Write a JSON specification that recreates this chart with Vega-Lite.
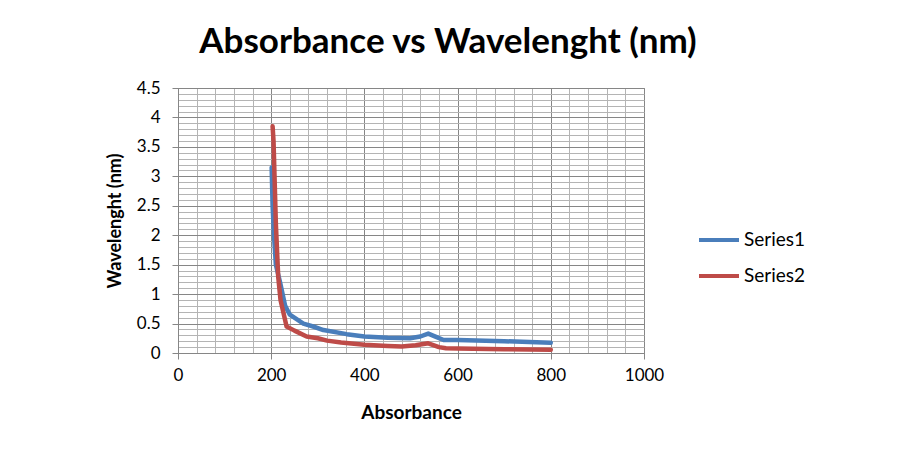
{
  "$schema": "https://vega.github.io/schema/vega-lite/v6.json",
  "autosize": {"type": "none"},
  "width": 466,
  "height": 265,
  "padding": {"left": 178, "top": 88, "right": 256, "bottom": 107},
  "background": "white",
  "config": {
    "font": "Lato",
    "view": {"stroke": "#868686", "strokeWidth": 1}
  },
  "title": {
    "text": "Absorbance vs Wavelenght (nm)",
    "font": "Lato",
    "fontSize": 35,
    "fontWeight": "bold",
    "color": "#000000",
    "anchor": "middle",
    "frame": "group",
    "dx": 37,
    "offset": 19
  },
  "data": {
    "values": [
      {"x": 201, "y": 3.15, "series": "Series1"},
      {"x": 203, "y": 2.5, "series": "Series1"},
      {"x": 206, "y": 2.0, "series": "Series1"},
      {"x": 210, "y": 1.5, "series": "Series1"},
      {"x": 219, "y": 1.2, "series": "Series1"},
      {"x": 230, "y": 0.8, "series": "Series1"},
      {"x": 240, "y": 0.65, "series": "Series1"},
      {"x": 269, "y": 0.5, "series": "Series1"},
      {"x": 290, "y": 0.45, "series": "Series1"},
      {"x": 312, "y": 0.39, "series": "Series1"},
      {"x": 362, "y": 0.32, "series": "Series1"},
      {"x": 400, "y": 0.28, "series": "Series1"},
      {"x": 450, "y": 0.26, "series": "Series1"},
      {"x": 498, "y": 0.25, "series": "Series1"},
      {"x": 520, "y": 0.28, "series": "Series1"},
      {"x": 537, "y": 0.33, "series": "Series1"},
      {"x": 555, "y": 0.27, "series": "Series1"},
      {"x": 570, "y": 0.22, "series": "Series1"},
      {"x": 600, "y": 0.22, "series": "Series1"},
      {"x": 700, "y": 0.2, "series": "Series1"},
      {"x": 800, "y": 0.175, "series": "Series1"},
      {"x": 203, "y": 3.85, "series": "Series2"},
      {"x": 205, "y": 3.6, "series": "Series2"},
      {"x": 210, "y": 2.2, "series": "Series2"},
      {"x": 215, "y": 1.3, "series": "Series2"},
      {"x": 220, "y": 0.9, "series": "Series2"},
      {"x": 233, "y": 0.45, "series": "Series2"},
      {"x": 250, "y": 0.38, "series": "Series2"},
      {"x": 276, "y": 0.28, "series": "Series2"},
      {"x": 300, "y": 0.25, "series": "Series2"},
      {"x": 320, "y": 0.21, "series": "Series2"},
      {"x": 350, "y": 0.18, "series": "Series2"},
      {"x": 400, "y": 0.14, "series": "Series2"},
      {"x": 450, "y": 0.12, "series": "Series2"},
      {"x": 480, "y": 0.11, "series": "Series2"},
      {"x": 510, "y": 0.13, "series": "Series2"},
      {"x": 537, "y": 0.165, "series": "Series2"},
      {"x": 560, "y": 0.1, "series": "Series2"},
      {"x": 575, "y": 0.08, "series": "Series2"},
      {"x": 600, "y": 0.075, "series": "Series2"},
      {"x": 700, "y": 0.065, "series": "Series2"},
      {"x": 800, "y": 0.055, "series": "Series2"}
    ]
  },
  "mark": {"type": "line", "strokeWidth": 4.5, "strokeCap": "round", "strokeJoin": "round"},
  "encoding": {
    "x": {
      "field": "x",
      "type": "quantitative",
      "scale": {"domain": [0, 1000], "nice": false, "zero": true},
      "axis": {
        "title": "Absorbance",
        "titleFont": "Lato",
        "titleFontSize": 19,
        "titleFontWeight": "bold",
        "titleColor": "#000000",
        "titlePadding": 20,
        "values": [0, 40, 80, 120, 160, 200, 240, 280, 320, 360, 400, 440, 480, 520, 560, 600, 640, 680, 720, 760, 800, 840, 880, 920, 960, 1000],
        "labelExpr": "datum.value % 200 === 0 ? '' + datum.value : ''",
        "labelFont": "Lato",
        "labelFontSize": 17,
        "labelColor": "#000000",
        "labelPadding": 8,
        "labelFlush": false,
        "labelOverlap": false,
        "domainColor": "#868686",
        "tickColor": "#868686",
        "tickSize": 6,
        "tickOpacity": {"condition": {"test": "datum.value % 200 === 0", "value": 1}, "value": 0},
        "grid": true,
        "gridColor": {"condition": {"test": "datum.value % 200 === 0", "value": "#868686"}, "value": "#b4b4b4"},
        "gridOpacity": 1,
        "gridWidth": 1
      }
    },
    "y": {
      "field": "y",
      "type": "quantitative",
      "scale": {"domain": [0, 4.5], "nice": false},
      "axis": {
        "title": "Wavelenght (nm)",
        "titleFont": "Lato",
        "titleFontSize": 18,
        "titleFontWeight": "bold",
        "titleColor": "#000000",
        "titlePadding": 12,
        "values": [0, 0.1, 0.2, 0.3, 0.4, 0.5, 0.6, 0.7, 0.8, 0.9, 1, 1.1, 1.2, 1.3, 1.4, 1.5, 1.6, 1.7, 1.8, 1.9, 2, 2.1, 2.2, 2.3, 2.4, 2.5, 2.6, 2.7, 2.8, 2.9, 3, 3.1, 3.2, 3.3, 3.4, 3.5, 3.6, 3.7, 3.8, 3.9, 4, 4.1, 4.2, 4.3, 4.4, 4.5],
        "labelExpr": "abs(datum.value * 2 - round(datum.value * 2)) < 0.001 ? '' + datum.value : ''",
        "labelFont": "Lato",
        "labelFontSize": 17,
        "labelColor": "#000000",
        "labelPadding": 12,
        "labelOverlap": false,
        "labelFlush": false,
        "domainColor": "#868686",
        "tickColor": "#868686",
        "tickSize": 6,
        "tickOpacity": {"condition": {"test": "abs(datum.value * 2 - round(datum.value * 2)) < 0.001", "value": 1}, "value": 0},
        "grid": true,
        "gridColor": {"condition": {"test": "abs(datum.value * 2 - round(datum.value * 2)) < 0.001", "value": "#868686"}, "value": "#b4b4b4"},
        "gridOpacity": 1,
        "gridWidth": 1
      }
    },
    "color": {
      "field": "series",
      "type": "nominal",
      "scale": {"domain": ["Series1", "Series2"], "range": ["#4a7ebb", "#be4b48"]},
      "legend": {
        "title": null,
        "orient": "none",
        "legendX": 519,
        "legendY": 130,
        "symbolType": "stroke",
        "symbolSize": 1600,
        "symbolStrokeWidth": 4,
        "labelFont": "Lato",
        "labelFontSize": 19,
        "labelColor": "#000000",
        "labelOffset": 3,
        "rowPadding": 4
      }
    }
  }
}
